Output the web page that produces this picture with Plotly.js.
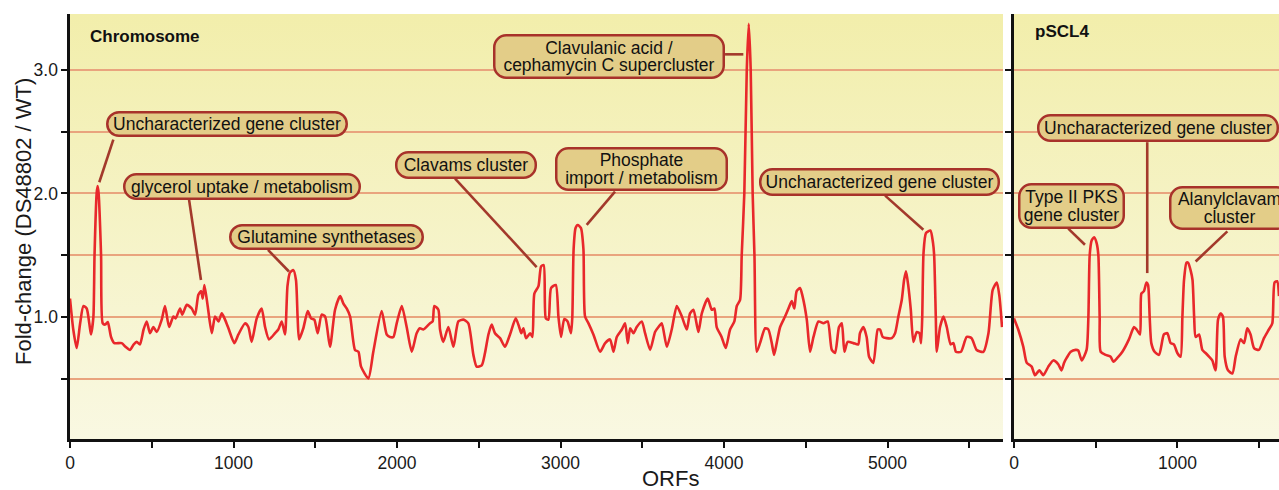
<!DOCTYPE html>
<html><head><meta charset="utf-8">
<script src="https://cdn.plot.ly/plotly-3.0.1.min.js"></script>
<style>html,body{margin:0;padding:0;background:#fff}#chart{width:1279px;height:490px}</style>
</head><body><div id="chart"></div>
<script>
// ---------- data ----------
const chromORF = [0,20,41,62,82,102,118,128,143,150,163,169,175,190,200,215,231,251,271,316,340,367,390,408,428,450,469,489,510,530,561,581,606,632,646,673,687,714,744,765,785,802,812,822,842,867,887,908,928,948,969,1005,1030,1071,1091,1111,1142,1172,1193,1217,1254,1274,1295,1315,1330,1345,1366,1382,1392,1401,1427,1454,1474,1494,1515,1539,1560,1590,1621,1652,1672,1692,1713,1743,1764,1780,1825,1855,1906,1937,1957,1978,1998,2029,2059,2090,2120,2140,2161,2202,2218,2228,2253,2263,2283,2314,2345,2375,2406,2436,2467,2487,2518,2538,2559,2579,2599,2630,2660,2691,2726,2747,2760,2773,2789,2814,2828,2840,2865,2881,2897,2910,2926,2942,2971,2987,3003,3023,3043,3064,3072,3080,3092,3105,3125,3140,3150,3171,3201,3242,3273,3303,3324,3344,3375,3395,3411,3426,3446,3466,3497,3517,3548,3578,3599,3619,3650,3680,3711,3742,3772,3792,3813,3843,3864,3900,3925,3941,3955,3985,4010,4037,4063,4078,4098,4108,4124,4139,4151,4163,4175,4186,4200,4220,4251,4271,4292,4306,4322,4343,4373,4394,4414,4430,4444,4465,4480,4506,4526,4547,4577,4608,4634,4659,4679,4703,4720,4736,4756,4791,4821,4831,4852,4872,4887,4913,4940,4954,4970,4995,5026,5046,5066,5087,5101,5113,5127,5142,5158,5179,5195,5205,5212,5220,5235,5262,5278,5285,5295,5301,5321,5342,5362,5386,5403,5418,5449,5484,5514,5545,5586,5617,5643,5668,5684,5700];
const chromFC = [1.15,0.90,0.75,0.95,1.09,1.07,0.95,0.86,1.00,1.50,2.00,2.06,2.00,1.50,0.95,0.94,0.96,0.84,0.79,0.79,0.76,0.735,0.78,0.80,0.78,0.90,0.965,0.87,0.92,0.88,0.98,1.09,0.92,1.005,0.99,1.07,1.02,1.10,1.07,1.02,1.18,1.21,1.15,1.26,1.09,0.87,1.005,0.965,1.03,0.98,0.91,0.79,0.86,0.95,0.92,0.80,0.99,1.07,0.92,0.82,0.87,0.90,0.965,0.86,1.25,1.36,1.38,1.30,1.00,0.82,0.91,1.05,0.99,0.98,0.87,1.02,1.005,0.76,1.06,1.17,1.11,1.07,1.005,0.735,0.72,0.60,0.505,0.72,1.05,0.86,0.84,0.84,0.95,1.09,0.92,0.72,0.87,0.91,0.90,0.95,0.965,1.09,1.06,0.90,0.80,0.92,0.76,0.965,0.98,0.95,0.695,0.60,0.61,0.71,0.86,0.94,0.87,0.83,0.76,0.86,0.99,0.92,0.87,0.91,0.83,0.87,0.84,1.19,1.25,1.41,1.42,0.99,0.98,1.235,1.26,1.005,0.84,0.985,0.965,0.87,1.00,1.55,1.72,1.745,1.72,1.55,1.005,0.95,0.86,0.72,0.79,0.82,0.72,0.84,0.90,0.95,0.79,0.91,0.87,0.92,0.965,0.87,0.735,0.88,0.92,0.95,0.76,0.90,1.09,1.005,0.90,1.03,1.06,0.88,1.03,1.15,1.06,1.07,0.92,0.84,0.75,0.90,0.965,1.09,1.14,1.50,2.00,3.00,3.37,3.00,2.00,1.50,0.72,0.79,0.91,0.90,0.79,0.695,0.79,0.92,1.005,1.07,1.13,1.07,1.21,1.235,1.17,0.98,0.72,0.84,0.965,0.95,0.965,0.735,0.71,0.92,0.95,0.72,0.80,0.79,0.78,0.87,0.92,0.84,0.68,0.63,0.90,0.90,0.84,0.83,0.83,0.87,1.005,1.14,1.30,1.37,1.25,1.06,0.80,0.88,0.87,0.79,1.00,1.52,1.68,1.70,1.60,1.50,1.00,0.72,0.92,1.005,0.92,0.78,0.79,0.72,0.72,0.84,0.83,0.735,0.72,0.87,1.22,1.28,1.17,0.92];

const psclORF = [0,26,57,78,108,128,155,179,210,240,270,291,306,322,347,377,393,414,444,455,463,475,490,505,516,524,530,561,591,608,632,663,703,734,750,771,779,795,810,820,830,840,860,887,917,938,958,978,999,1019,1030,1040,1055,1065,1080,1092,1102,1111,1132,1152,1172,1193,1213,1233,1248,1264,1278,1289,1309,1336,1356,1386,1407,1427,1447,1468,1498,1529,1559,1580,1594,1610,1621];
const psclFC = [0.99,0.90,0.76,0.63,0.60,0.53,0.57,0.53,0.60,0.65,0.62,0.57,0.63,0.67,0.72,0.735,0.73,0.65,0.735,1.00,1.50,1.62,1.645,1.60,1.50,1.00,0.72,0.695,0.68,0.64,0.67,0.72,0.82,0.92,0.90,0.86,1.19,1.21,1.28,1.26,1.00,0.79,0.72,0.695,0.86,0.87,0.79,0.78,0.71,0.68,1.00,1.30,1.44,1.44,1.38,1.30,1.00,0.84,0.86,0.735,0.71,0.68,0.65,0.57,0.98,1.03,1.005,0.68,0.57,0.545,0.68,0.82,0.79,0.91,0.86,0.75,0.735,0.83,0.90,0.95,1.28,1.29,1.17];

const yTickVals = [0.5, 1.0, 1.5, 2.0, 2.5, 3.0];
const yTickText = ['', '1.0', '', '2.0', '', '3.0'];
const panelNames = ['Chromosome', 'pSCL4'];
const xTitle = 'ORFs';
const yTitle = 'Fold-change (DS48802 / WT)';

const calloutText = ['Uncharacterized gene cluster','glycerol uptake / metabolism','Glutamine synthetases','Clavams cluster','Phosphate<br>import / metabolism','Clavulanic acid /<br>cephamycin C supercluster','Uncharacterized gene cluster','Type II PKS<br>gene cluster','Uncharacterized gene cluster','Alanylclavam<br>cluster'];
const calloutPanel = [1,1,1,1,1,1,1,2,2,2];
const calloutTipORF = [179, 801, 1339, 2854, 3160, 4118, 5219, 434, 815, 1111];
const calloutTipFC = [2.09, 1.30, 1.369, 1.405, 1.745, 3.124, 1.707, 1.585, 1.356, 1.45];

// ---------- callout layout (box centre, box size in px, leader start) ----------
const calloutBox = [
  {x:960, y:2.557, w:242, h:26, sx:265, sy:2.435},
  {x:1052, y:2.059, w:238, h:27, sx:728, sy:1.95},
  {x:1569, y:1.650, w:195, h:26, sx:1211, sy:1.543},
  {x:2422, y:2.233, w:142, h:28, sx:2355, sy:2.120},
  {x:3498, y:2.195, w:173, h:44, sx:3333, sy:2.015},
  {x:3297, y:3.104, w:232, h:45, sx:4006, sy:3.124},
  {x:4951, y:2.096, w:241, h:28, sx:4985, sy:1.982},
  {x:353, y:1.899, w:107, h:46, sx:332, sy:1.715},
  {x:879.5, y:2.526, w:242, h:28, sx:815, sy:2.414},
  {x:1317, y:1.883, w:121, h:44, sx:1305, sy:1.693}
];

const FONT = 'Liberation Sans, Arial, Helvetica, sans-serif';
const RED = '#e8282b';
const LEAD = '#a3392b';
const BOXFILL = '#e3cd88';
const BOXLINE = '#a8322a';
const GRID = '#e9a47e';
const AX = '#111111';

const L = 70, R = 0, T = 14, B = 51, W = 1279, H = 490;
const pw = W - L - R;
const d1 = (1003 - L) / pw;
const d2 = (1014 - L) / pw;

const traces = [
  {x: chromORF, y: chromFC, xaxis:'x', yaxis:'y', type:'scatter', mode:'lines',
   line:{color:RED, width:2.6, shape:'spline', smoothing:0.6}, hoverinfo:'skip'},
  {x: psclORF, y: psclFC, xaxis:'x2', yaxis:'y2', type:'scatter', mode:'lines',
   line:{color:RED, width:2.6, shape:'spline', smoothing:0.6}, hoverinfo:'skip'}
];

function xAx(domain, range, anchor){
  return {domain, range, anchor, tick0:0, dtick:1000, ticks:'outside', ticklen:6, tickwidth:2, tickcolor:AX,
    showline:true, linewidth:2.6, linecolor:AX, showgrid:false, zeroline:false,
    tickfont:{size:17.5, color:'#1a1a1a', family:FONT},
    minor:{dtick:500, tick0:0, ticks:'outside', ticklen:6, tickwidth:2, tickcolor:AX, showgrid:false},
    fixedrange:true};
}
function yAx(anchor, labels){
  return {domain:[0,1], range:[0.015, 3.45], anchor, tickmode:'array', tickvals:yTickVals, ticktext:yTickText,
    showticklabels:labels, ticks:'outside', ticklen:6, tickwidth:2, tickcolor:AX,
    showline:true, linewidth:2.6, linecolor:AX, showgrid:true, gridcolor:GRID, gridwidth:2, zeroline:false,
    tickfont:{size:17.5, color:'#1a1a1a', family:FONT}, fixedrange:true};
}

const gradSvg = '<svg xmlns="http://www.w3.org/2000/svg" width="100" height="100" preserveAspectRatio="none">' +
  '<defs><linearGradient id="g" x1="0" y1="0" x2="0" y2="1"><stop offset="0" stop-color="#f2eeab"/>' +
  '<stop offset="1" stop-color="#f9f8e2"/></linearGradient></defs><rect width="100" height="100" fill="url(#g)"/></svg>';
const gradSrc = 'data:image/svg+xml;charset=utf-8,' + encodeURIComponent(gradSvg);

const annotations = [];
const shapes = [];
calloutText.forEach((t, i) => {
  const b = calloutBox[i];
  const xr = calloutPanel[i] === 1 ? 'x' : 'x2';
  const yr = calloutPanel[i] === 1 ? 'y' : 'y2';
  shapes.push({type:'line', xref:xr, yref:yr, x0:b.sx, y0:b.sy, x1:calloutTipORF[i], y1:calloutTipFC[i],
    line:{color:LEAD, width:2.6}, layer:'above'});
  annotations.push({xref:xr, yref:yr, x:b.x, y:b.y, text:t, showarrow:false, xanchor:'center', yanchor:'middle',
    width:b.w - 5, height:b.h - 5, borderpad:0, borderwidth:2.5, bordercolor:BOXLINE, bgcolor:BOXFILL,
    font:{family:FONT, size:17.5, color:'#111'}, align:'center', valign:'middle'});
});
annotations.push({xref:'paper', yref:'paper', x:(88 - L)/pw, y:(439 - 36)/425, text:'<b>' + panelNames[0] + '</b>',
  showarrow:false, xanchor:'left', yanchor:'middle', font:{family:FONT, size:17, color:'#111'}});
annotations.push({xref:'paper', yref:'paper', x:(1032.7 - L)/pw, y:(439 - 31.7)/425, text:'<b>' + panelNames[1] + '</b>',
  showarrow:false, xanchor:'left', yanchor:'middle', font:{family:FONT, size:17, color:'#111'}});
annotations.push({xref:'paper', yref:'paper', x:(670.7 - L)/pw, y:(439 - 478)/425, text:xTitle,
  showarrow:false, xanchor:'center', yanchor:'middle', font:{family:FONT, size:22, color:'#1a1a1a'}});
annotations.push({xref:'paper', yref:'paper', x:(23 - L)/pw, y:(439 - 222)/425, text:yTitle, textangle:-90,
  showarrow:false, xanchor:'center', yanchor:'middle', font:{family:FONT, size:22, color:'#1a1a1a'}});

const layout = {
  width:W, height:H, margin:{l:L, r:R, t:T, b:B, pad:0},
  paper_bgcolor:'#ffffff', plot_bgcolor:'rgba(0,0,0,0)', showlegend:false,
  font:{family:FONT, size:17, color:'#1a1a1a'},
  xaxis: xAx([0, d1], [0, 5706], 'y'),
  xaxis2: xAx([d2, 1], [0, 1621], 'y2'),
  yaxis: yAx('x', true),
  yaxis2: yAx('x2', false),
  images:[
    {source:gradSrc, xref:'paper', yref:'paper', x:0, y:1, sizex:d1, sizey:1, sizing:'stretch', xanchor:'left', yanchor:'top', layer:'below'},
    {source:gradSrc, xref:'paper', yref:'paper', x:d2, y:1, sizex:1 - d2, sizey:1, sizing:'stretch', xanchor:'left', yanchor:'top', layer:'below'}
  ],
  shapes, annotations
};

Plotly.newPlot('chart', traces, layout, {staticPlot:true, displayModeBar:false}).then(gd => {
  gd.querySelectorAll('.annotation rect.bg').forEach(r => {
    const h = parseFloat(r.getAttribute('height')) || 0;
    const rad = Math.min(12, h / 2);
    r.setAttribute('rx', rad); r.setAttribute('ry', rad);
  });
  // tighter line spacing for two-line callouts
  gd.querySelectorAll('.annotation text.annotation-text').forEach(t => {
    const lines = t.querySelectorAll('tspan.line');
    if (lines.length > 1) {
      lines.forEach((s, k) => { if (k > 0) s.setAttribute('dy', '1.02em'); });
      const fs = 17.5, shift = 0.14 * fs * (lines.length - 1);
      const tr = t.getAttribute('transform') || '';
      t.setAttribute('transform', tr + ' translate(0,' + shift.toFixed(2) + ')');
    }
  });
});
</script></body></html>
